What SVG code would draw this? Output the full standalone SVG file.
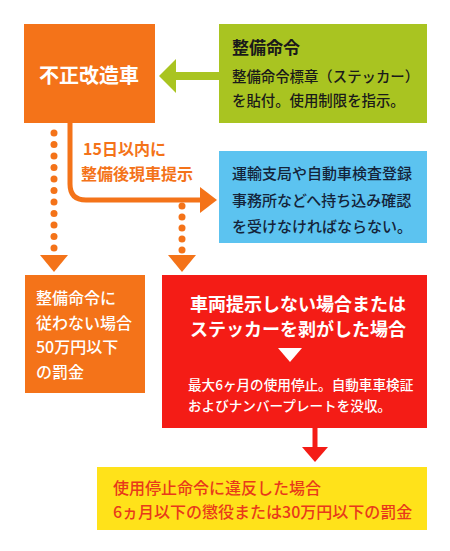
<svg xmlns="http://www.w3.org/2000/svg" width="450" height="551" viewBox="0 0 450 551">
<style>
text{font-family:"Noto Sans CJK JP","Noto Sans",sans-serif;font-weight:500;}
.b{font-weight:bold;}
.w{fill:#fff;}
.k{fill:#1a1a1a;}
.o{fill:#F47319;}
.dot{fill:#F47319;}
</style>
<rect width="450" height="551" fill="#fff"/>
<g id="connectors">
  <path d="M219 76 H172" stroke="#A9C421" stroke-width="8" fill="none"/>
  <polygon points="159,76 176,59 176,93" fill="#A9C421"/>
  <path d="M70 122 V184 Q70 200 86 200 H203" stroke="#F47319" stroke-width="5" fill="none"/>
  <polygon points="217,200 200,187 200,213" fill="#F47319"/>
  <g class="dot">
    <circle cx="54" cy="133" r="3.5"/><circle cx="54" cy="144.5" r="3.5"/><circle cx="54" cy="156" r="3.5"/>
    <circle cx="54" cy="167.5" r="3.5"/><circle cx="54" cy="179" r="3.5"/><circle cx="54" cy="190.5" r="3.5"/>
    <circle cx="54" cy="202" r="3.5"/><circle cx="54" cy="213.5" r="3.5"/><circle cx="54" cy="225" r="3.5"/>
    <circle cx="54" cy="236.5" r="3.5"/><circle cx="54" cy="248" r="3.5"/>
    <circle cx="182" cy="206" r="3.5"/><circle cx="182" cy="217" r="3.5"/><circle cx="182" cy="228" r="3.5"/>
    <circle cx="182" cy="239" r="3.5"/><circle cx="182" cy="250" r="3.5"/>
  </g>
  <polygon points="40,255 68,255 54,272" fill="#F47319"/>
  <polygon points="168,255 196,255 182,272" fill="#F47319"/>
  <path d="M315 428 V449" stroke="#F41C16" stroke-width="5" fill="none"/>
  <polygon points="302,447 328,447 315,462" fill="#F41C16"/>
  <text x="83" y="155" class="b o" font-size="16">15日以内に</text>
  <text x="81" y="180" class="b o" font-size="16">整備後現車提示</text>
</g>
<g id="node-fusei">
  <rect x="24" y="24" width="131" height="99" fill="#F47319"/>
  <text x="89" y="83" class="b w" font-size="20" text-anchor="middle">不正改造車</text>
</g>
<g id="node-seibi">
  <rect x="219" y="24" width="208" height="99" fill="#A9C421"/>
  <text x="232" y="54" class="b k" font-size="17">整備命令</text>
  <text x="232" y="82" class="k" font-size="14.4">整備命令標章（ステッカー）</text>
  <text x="232" y="106" class="k" font-size="14.4">を貼付。使用制限を指示。</text>
</g>
<g id="node-unyu">
  <rect x="219" y="151" width="208" height="92" fill="#5CC3F0"/>
  <text x="232" y="179" fill="#14243a" font-size="15">運輸支局や自動車検査登録</text>
  <text x="232" y="206" fill="#14243a" font-size="15">事務所などへ持ち込み確認</text>
  <text x="232" y="232" fill="#14243a" font-size="15">を受けなければならない。</text>
</g>
<g id="node-bakkin">
  <rect x="25" y="275" width="120" height="118" fill="#F47319"/>
  <text x="36" y="304" class="w" font-size="16">整備命令に</text>
  <text x="36" y="329" class="w" font-size="16">従わない場合</text>
  <text x="36" y="353" class="w" font-size="16">50万円以下</text>
  <text x="36" y="378" class="w" font-size="16">の罰金</text>
</g>
<g id="node-teishi">
  <rect x="162" y="275" width="265" height="153" fill="#F41C16"/>
  <text x="190" y="311" class="b w" font-size="18">車両提示しない場合または</text>
  <text x="190" y="336" class="b w" font-size="18">ステッカーを剥がした場合</text>
  <polygon points="278,348 302,348 290,362" fill="#fff"/>
  <text x="188" y="390" class="w" font-size="13.6">最大6ヶ月の使用停止。自動車車検証</text>
  <text x="188" y="411" class="w" font-size="13.6">およびナンバープレートを没収。</text>
</g>
<g id="node-ihan">
  <rect x="97" y="467" width="330" height="63" fill="#FFE21A"/>
  <text x="113" y="494" fill="#E83A1A" font-size="16">使用停止命令に違反した場合</text>
  <text x="113" y="518" fill="#E83A1A" font-size="16">6ヵ月以下の懲役または30万円以下の罰金</text>
</g>
</svg>
